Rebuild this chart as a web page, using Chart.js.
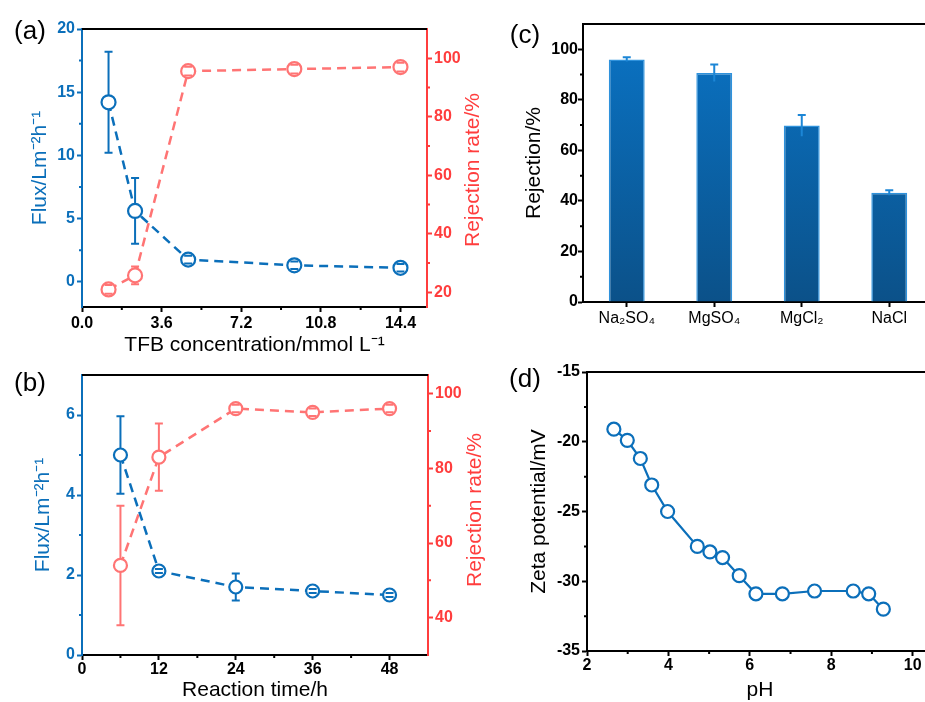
<!DOCTYPE html>
<html>
<head>
<meta charset="utf-8">
<script src="https://cdn.jsdelivr.net/npm/chart.js@4.4.1/dist/chart.umd.min.js"></script>
<style>
  html, body { margin: 0; padding: 0; background: #fff; overflow: hidden; width: 925px; height: 702px; }
  canvas { position: absolute; }
  .tag { position: absolute; font: 26px "Liberation Sans", Arial, sans-serif; transform: translate(-50%, -50%); color: #000; }
</style>
</head>
<body>
<canvas id="ca" width="500" height="360" style="left:0;top:0"></canvas>
<canvas id="cb" width="500" height="370" style="left:0;top:345px"></canvas>
<canvas id="cc" width="450" height="345" style="left:490px;top:0"></canvas>
<canvas id="cd" width="450" height="370" style="left:490px;top:345px"></canvas>
<div class="tag" style="left:30px;top:30px">(a)</div>
<div class="tag" style="left:30px;top:382px">(b)</div>
<div class="tag" style="left:525px;top:34px">(c)</div>
<div class="tag" style="left:525px;top:378px">(d)</div>
<script>
// (a) flux / rejection vs TFB concentration
const tfbConc = [1.2, 2.4, 4.8, 9.6, 14.4];
const fluxA = [14.2, 5.6, 1.75, 1.3, 1.1];
const fluxErrA = [4.0, 2.6, 0.3, 0.3, 0.3];
const rejA = [21, 25.8, 95.6, 96.3, 97];
const rejErrA = [1.5, 3, 1.5, 1.5, 1.5];

// (b) flux / rejection vs reaction time
const reactTime = [6, 12, 24, 36, 48];
const fluxB = [5.0, 2.1, 1.7, 1.6, 1.5];
const fluxErrB = [0.97, 0.05, 0.34, 0.05, 0.05];
const rejB = [54, 83, 96, 95, 96];
const rejErrB = [16, 9, 1, 1, 1];

// (c) salt rejection
const salts = ['Na₂SO₄', 'MgSO₄', 'MgCl₂', 'NaCl'];
const saltRej = [96, 90.6, 69.8, 43.2];
const saltErr = [0.8, 3.4, 4.2, 1.0];

// (d) zeta potential vs pH
const pH = [2.66, 2.99, 3.31, 3.59, 3.98, 4.71, 5.02, 5.33, 5.74, 6.15, 6.80, 7.59, 8.54, 8.92, 9.28];
const zeta = [-19.1, -19.9, -21.2, -23.1, -25.0, -27.5, -27.9, -28.3, -29.6, -30.9, -30.9, -30.7, -30.7, -30.9, -32.0];

// tick values
const tfbTicks = [0, 3.6, 7.2, 10.8, 14.4], tfbMinor = [1.8, 5.4, 9.0, 12.6];
const fluxATicks = [0, 5, 10, 15, 20], fluxAMinor = [2.5, 7.5, 12.5, 17.5];
const rejATicks = [20, 40, 60, 80, 100], rejAMinor = [30, 50, 70, 90];
const timeTicks = [0, 12, 24, 36, 48], timeMinor = [6, 18, 30, 42];
const fluxBTicks = [0, 2, 4, 6], fluxBMinor = [1, 3, 5];
const rejBTicks = [40, 60, 80, 100], rejBMinor = [50, 70, 90];
const rejCTicks = [0, 20, 40, 60, 80, 100], rejCMinor = [10, 30, 50, 70, 90];
const pHTicks = [2, 4, 6, 8, 10], pHMinor = [3, 5, 7, 9];
const zetaTicks = [-35, -30, -25, -20, -15], zetaMinor = [-32.5, -27.5, -22.5, -17.5];

const FONT = '"Liberation Sans", Arial, Helvetica, sans-serif';
const BLUE = '#0b6fba';
const RED_AX = '#ff3d3d';
const RED = '#ff7474';
Chart.defaults.font.family = FONT;
Chart.defaults.color = '#000';

// error bars, minor ticks, top frame and right-hand titles
const extras = {
  id: 'extras',
  afterDatasetsDraw(chart, args, o) {
    const ctx = chart.ctx;
    (o.errors || []).forEach(e => {
      const meta = chart.getDatasetMeta(e.dataset);
      const ys = chart.scales[meta.yAxisID];
      const data = chart.data.datasets[e.dataset].data;
      ctx.save();
      ctx.strokeStyle = e.color;
      ctx.lineWidth = e.width || 2;
      meta.data.forEach((el, i) => {
        const v = typeof data[i] === 'object' ? data[i].y : data[i];
        const top = ys.getPixelForValue(v + e.err[i]);
        const bot = ys.getPixelForValue(v - e.err[i]);
        const x = el.x, y = el.y, r = e.gap || 0, w = e.cap;
        ctx.beginPath();
        if (top < y - r) { ctx.moveTo(x, top); ctx.lineTo(x, y - r); }
        if (bot > y + r) { ctx.moveTo(x, y + r); ctx.lineTo(x, bot); }
        ctx.moveTo(x - w, top); ctx.lineTo(x + w, top);
        if (!e.topOnly) { ctx.moveTo(x - w, bot); ctx.lineTo(x + w, bot); }
        ctx.stroke();
      });
      ctx.restore();
    });
  },
  afterDraw(chart, args, o) {
    const ctx = chart.ctx, a = chart.chartArea;
    ctx.save();
    ctx.lineWidth = 2;
    ctx.strokeStyle = '#000';
    ctx.beginPath();
    ctx.moveTo(a.left, a.top);
    ctx.lineTo(a.right, a.top);
    ctx.stroke();
    (o.minor || []).forEach(m => {
      const s = chart.scales[m.axis];
      ctx.strokeStyle = m.color;
      ctx.beginPath();
      m.values.forEach(v => {
        const p = s.getPixelForValue(v);
        if (s.isHorizontal()) { ctx.moveTo(p, s.top); ctx.lineTo(p, s.top + 3); }
        else if (s.position === 'left') { ctx.moveTo(s.right, p); ctx.lineTo(s.right - 3, p); }
        else { ctx.moveTo(s.left, p); ctx.lineTo(s.left + 3, p); }
      });
      ctx.stroke();
    });
    if (o.side) {
      ctx.translate(o.side.x, o.side.y);
      ctx.rotate(-Math.PI / 2);
      ctx.fillStyle = o.side.color;
      ctx.font = '21px ' + FONT;
      ctx.textAlign = 'center';
      ctx.textBaseline = 'middle';
      ctx.fillText(o.side.text, 0, 0);
    }
    ctx.restore();
  }
};

function axis(pos, color, min, max, ticks, fit, title, extra) {
  const cfg = {
    type: 'linear', position: pos, min: min, max: max,
    afterBuildTicks: s => { s.ticks = ticks.map(v => ({ value: v })); },
    afterFit: s => { if (s.isHorizontal()) s.height = fit; else s.width = fit; },
    grid: { drawOnChartArea: false, tickLength: 5, tickWidth: 2, tickColor: color },
    border: { color: color, width: 2 },
    ticks: { color: color, font: { size: 16, weight: 'bold' }, padding: 2, maxRotation: 0, autoSkip: false }
  };
  if (title) {
    cfg.title = { display: true, text: title.text, color: title.color || color, font: { size: 21 }, padding: title.padding };
  }
  return Object.assign(cfg, extra || {});
}

function lineSet(xs, ys, color, yAxisID, r, dash) {
  return {
    data: xs.map((x, i) => ({ x: x, y: ys[i] })),
    yAxisID: yAxisID,
    borderColor: color, borderWidth: 2.5, borderDash: dash,
    pointRadius: r, pointBorderWidth: 2.2, pointBackgroundColor: '#fff', pointBorderColor: color,
    tension: 0, clip: false
  };
}

// (a)
new Chart(document.getElementById('ca'), {
  type: 'line',
  data: { datasets: [
    lineSet(tfbConc, fluxA, BLUE, 'y', 7, [9, 6]),
    lineSet(tfbConc, rejA, RED, 'yR', 7, [9, 6])
  ] },
  options: {
    responsive: false, animation: false,
    layout: { padding: { top: 29 }, autoPadding: false },
    plugins: {
      legend: { display: false }, tooltip: { enabled: false },
      extras: {
        errors: [
          { dataset: 0, err: fluxErrA, color: BLUE, cap: 4, gap: 7 },
          { dataset: 1, err: rejErrA, color: RED, cap: 4, gap: 7 }
        ],
        minor: [
          { axis: 'x', values: tfbMinor, color: '#000' },
          { axis: 'y', values: fluxAMinor, color: BLUE },
          { axis: 'yR', values: rejAMinor, color: RED_AX }
        ],
        side: { text: 'Rejection rate/%', x: 473, y: 170, color: RED_AX }
      }
    },
    scales: {
      x: axis('bottom', '#000', 0, 15.6, tfbTicks, 53,
        { text: 'TFB concentration/mmol L⁻¹', padding: { top: 0, bottom: 2 } },
        { ticks: { color: '#000', font: { size: 16, weight: 'bold' }, padding: 2, maxRotation: 0, callback: v => v.toFixed(1) } }),
      y: axis('left', BLUE, -2, 20, fluxATicks, 82, { text: 'Flux/Lm⁻²h⁻¹', padding: { top: 28, bottom: 0 } }),
      yR: axis('right', RED_AX, 15, 110, rejATicks, 73, null)
    }
  },
  plugins: [extras]
});

// (b)
new Chart(document.getElementById('cb'), {
  type: 'line',
  data: { datasets: [
    lineSet(reactTime, fluxB, BLUE, 'y', 6.5, [9, 6]),
    lineSet(reactTime, rejB, RED, 'yR', 6.5, [9, 6])
  ] },
  options: {
    responsive: false, animation: false,
    layout: { padding: { top: 30 }, autoPadding: false },
    plugins: {
      legend: { display: false }, tooltip: { enabled: false },
      extras: {
        errors: [
          { dataset: 0, err: fluxErrB, color: BLUE, cap: 4, gap: 6.5 },
          { dataset: 1, err: rejErrB, color: RED, cap: 4, gap: 6.5 }
        ],
        minor: [
          { axis: 'x', values: timeMinor, color: '#000' },
          { axis: 'y', values: fluxBMinor, color: BLUE },
          { axis: 'yR', values: rejBMinor, color: RED_AX }
        ],
        side: { text: 'Rejection rate/%', x: 475, y: 165, color: RED_AX }
      }
    },
    scales: {
      x: axis('bottom', '#000', 0, 54, timeTicks, 60, { text: 'Reaction time/h', padding: { top: 0, bottom: 12 } },
        { ticks: { color: '#000', font: { size: 16, weight: 'bold' }, padding: 0, maxRotation: 0 } }),
      y: axis('left', BLUE, 0, 7, fluxBTicks, 82, { text: 'Flux/Lm⁻²h⁻¹', padding: { top: 31, bottom: 0 } }),
      yR: axis('right', RED_AX, 30, 105, rejBTicks, 72, null)
    }
  },
  plugins: [extras]
});

// (c)
new Chart(document.getElementById('cc'), {
  type: 'bar',
  data: {
    labels: salts,
    datasets: [{
      data: saltRej,
      backgroundColor: c => {
        const a = c.chart.chartArea;
        if (!a) return '#0a66ad';
        const g = c.chart.ctx.createLinearGradient(0, a.bottom, 0, a.top);
        g.addColorStop(0, '#0b5189');
        g.addColorStop(1, '#0a74c6');
        return g;
      },
      borderColor: '#2f92dc', borderWidth: 1.5,
      barPercentage: 0.41, categoryPercentage: 1
    }]
  },
  options: {
    responsive: false, animation: false,
    layout: { padding: { top: 24, right: 7 }, autoPadding: false },
    plugins: {
      legend: { display: false }, tooltip: { enabled: false },
      extras: {
        errors: [{ dataset: 0, err: saltErr, color: '#1c86d6', cap: 4, gap: 0, topOnly: true }],
        minor: [{ axis: 'y', values: rejCMinor, color: '#000' }]
      }
    },
    scales: {
      x: {
        type: 'category',
        afterFit: s => { s.height = 43; },
        grid: { drawOnChartArea: false, offset: false, tickLength: 5, tickWidth: 2, tickColor: '#000' },
        border: { color: '#000', width: 2 },
        ticks: { color: '#000', font: { size: 16 }, padding: 2, maxRotation: 0 }
      },
      y: axis('left', '#000', 0, 110, rejCTicks, 93, { text: 'Rejection/%', padding: { top: 32, bottom: 0 } },
        { ticks: { color: '#000', font: { size: 16, weight: 'bold' }, padding: 0 } })
    }
  },
  plugins: [extras]
});

// (d)
new Chart(document.getElementById('cd'), {
  type: 'line',
  data: { datasets: [Object.assign(lineSet(pH, zeta, BLUE, 'y', 6.5, []), { borderWidth: 2.2 })] },
  options: {
    responsive: false, animation: false,
    layout: { padding: { top: 27, right: 7 }, autoPadding: false },
    plugins: {
      legend: { display: false }, tooltip: { enabled: false },
      extras: {
        minor: [
          { axis: 'x', values: pHMinor, color: '#000' },
          { axis: 'y', values: zetaMinor, color: '#000' }
        ]
      }
    },
    scales: {
      x: axis('bottom', '#000', 2, 10.5, pHTicks, 64, { text: 'pH', padding: { top: 0, bottom: 12 } },
        { ticks: { color: '#000', font: { size: 16, weight: 'bold' }, padding: 0, maxRotation: 0 } }),
      y: axis('left', '#000', -35, -15, zetaTicks, 97, { text: 'Zeta potential/mV', padding: { top: 37, bottom: 0 } })
    }
  },
  plugins: [extras]
});
</script>
</body>
</html>
